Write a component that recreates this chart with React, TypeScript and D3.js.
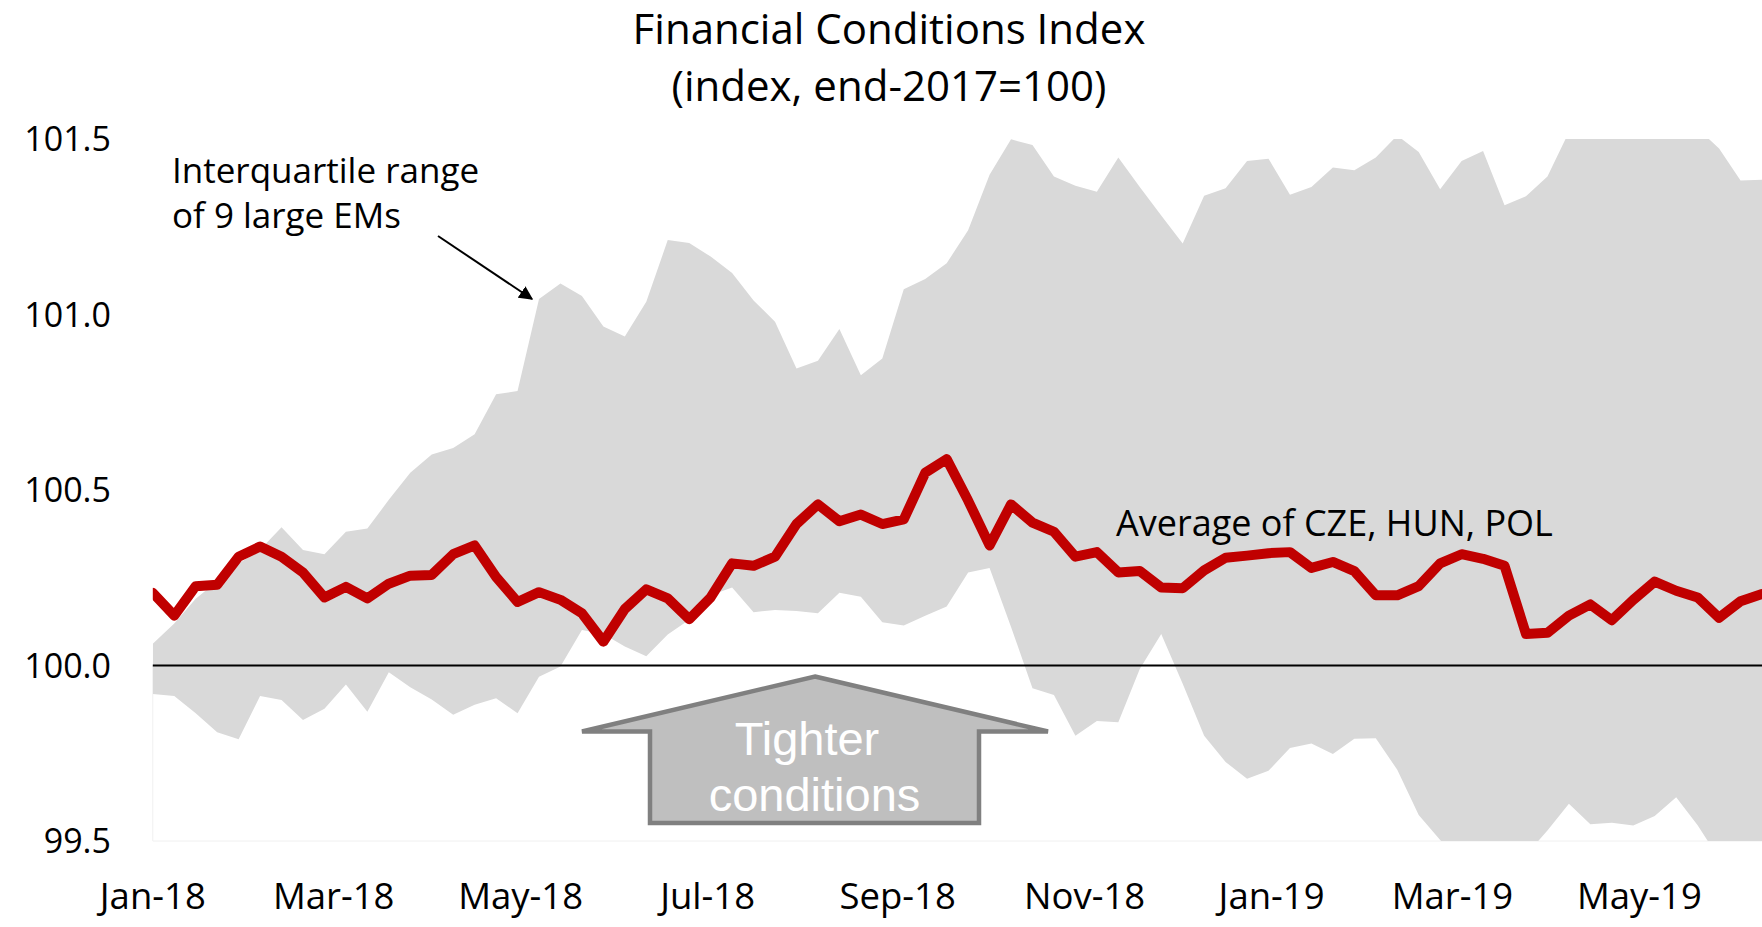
import React from 'react'
import * as d3 from 'd3'

// weekly readings, first week = Jan 2018
const avgCzeHunPol = [
  100.207, 100.142, 100.226, 100.23, 100.31, 100.339, 100.31, 100.265, 100.194, 100.224,
  100.191, 100.233, 100.256, 100.258, 100.317, 100.342, 100.252, 100.181, 100.209, 100.187,
  100.149, 100.068, 100.161, 100.217, 100.191, 100.132, 100.194, 100.291, 100.284, 100.31,
  100.403, 100.459, 100.411, 100.43, 100.403, 100.416, 100.549, 100.588, 100.47, 100.342,
  100.459, 100.407, 100.381, 100.31, 100.323, 100.265, 100.269, 100.222, 100.22, 100.271,
  100.307, 100.313, 100.32, 100.323, 100.278, 100.295, 100.269, 100.2, 100.2, 100.226,
  100.291, 100.317, 100.304, 100.284, 100.09, 100.093, 100.142, 100.174, 100.129, 100.187,
  100.239, 100.213, 100.194, 100.136, 100.183, 100.204,
]

const iqrUpper = [
  100.062, 100.12, 100.19, 100.24, 100.29, 100.33, 100.394, 100.329, 100.317, 100.381,
  100.39, 100.472, 100.549, 100.601, 100.62, 100.659, 100.773, 100.782, 101.044, 101.088,
  101.053, 100.966, 100.937, 101.036, 101.212, 101.204, 101.165, 101.118, 101.04, 100.979,
  100.846, 100.868, 100.959, 100.827, 100.875, 101.072, 101.101, 101.146, 101.24, 101.398,
  101.499, 101.483, 101.393, 101.367, 101.35, 101.447, 101.363, 101.282, 101.202, 101.338,
  101.36, 101.437, 101.444, 101.341, 101.363, 101.419, 101.411, 101.447, 101.51, 101.463,
  101.357, 101.437, 101.466, 101.311, 101.337, 101.393, 101.52, 101.58, 101.62, 101.6,
  101.57, 101.56, 101.53, 101.473, 101.382, 101.384,
]

const iqrLower = [
  99.919, 99.913, 99.864, 99.81, 99.79, 99.913, 99.902, 99.845, 99.877, 99.946,
  99.868, 99.981, 99.938, 99.903, 99.86, 99.888, 99.907, 99.864, 99.968, 99.997,
  100.101, 100.09, 100.054, 100.026, 100.088, 100.13, 100.2, 100.222, 100.152, 100.158,
  100.155, 100.149, 100.207, 100.196, 100.123, 100.114, 100.142, 100.168, 100.265, 100.278,
  100.11, 99.935, 99.916, 99.8, 99.842, 99.838, 99.99, 100.09, 99.948, 99.8,
  99.725, 99.677, 99.7, 99.765, 99.778, 99.748, 99.791, 99.793, 99.703, 99.574,
  99.503, 99.44, 99.42, 99.43, 99.46, 99.53, 99.606, 99.548, 99.552, 99.544,
  99.571, 99.625, 99.545, 99.45, 99.43, 99.44,
]

const yTicks = [99.5, 100, 100.5, 101, 101.5]
const titleLines = ['Financial Conditions Index', '(index, end-2017=100)']

const startDate = new Date(Date.UTC(2018, 0, 1))
const weeks = avgCzeHunPol.map((_, i) => d3.utcDay.offset(startDate, 7 * i))

const width = 1762
const height = 927
const margin = { top: 139, right: 0, bottom: 86, left: 152.8 }
const font = '"Segoe UI", "Open Sans", sans-serif'

const App = () => {
  const x = d3
    .scaleUtc()
    .domain([weeks[0], weeks[weeks.length - 1]])
    .range([margin.left, width - margin.right])

  const y = d3
    .scaleLinear()
    .domain([99.5, 101.5])
    .range([height - margin.bottom, margin.top])

  const xTicks = d3.utcMonth.every(2)!.range(weeks[0], weeks[weeks.length - 1])
  const fmt = d3.utcFormat('%b-%y')

  const band = d3
    .area<number>()
    .x((_, i) => x(weeks[i]))
    .y0((_, i) => y(iqrLower[i]))
    .y1((_, i) => y(iqrUpper[i]))

  const line = d3
    .line<number>()
    .x((_, i) => x(weeks[i]))
    .y((d) => y(d))

  const plotW = width - margin.right - margin.left
  const plotH = height - margin.bottom - margin.top

  // "Tighter conditions" block arrow
  const arrow = [
    [815, 676.5],
    [1048, 731.5],
    [979, 731.5],
    [979, 823],
    [650, 823],
    [650, 731.5],
    [582, 731.5],
  ]

  return (
    <svg
      width={width}
      height={height}
      style={{ position: 'absolute', left: 0, top: 0, background: '#fff' }}
      fontFamily={font}
    >
      <defs>
        <clipPath id="plot">
          <rect x={margin.left} y={margin.top} width={plotW} height={plotH} />
        </clipPath>
        <marker id="head" viewBox="0 0 10 10" refX="9" refY="5" markerWidth="7" markerHeight="7" orient="auto">
          <path d="M0,0 L10,5 L0,10 z" fill="#000" />
        </marker>
      </defs>

      {/* title */}
      {titleLines.map((t, i) => (
        <text key={t} x={889} y={44 + i * 57} textAnchor="middle" fontSize={42} fill="#000">
          {t}
        </text>
      ))}

      {/* plot area frame */}
      <line x1={margin.left} x2={margin.left} y1={y(100)} y2={y(99.5)} stroke="#f0f0f0" />
      <line x1={margin.left} x2={width} y1={y(99.5)} y2={y(99.5)} stroke="#f0f0f0" />

      <g clipPath="url(#plot)">
        <path d={band(avgCzeHunPol) ?? ''} fill="#d9d9d9" />
      </g>

      <line x1={margin.left} x2={width} y1={y(100)} y2={y(100)} stroke="#000" strokeWidth={2} />

      <g clipPath="url(#plot)">
        <path
          d={line(avgCzeHunPol) ?? ''}
          fill="none"
          stroke="#c00000"
          strokeWidth={10}
          strokeLinejoin="round"
          strokeLinecap="round"
        />
      </g>

      {/* y axis labels */}
      {yTicks.map((t) => (
        <text key={t} x={111} y={y(t) + 12} textAnchor="end" fontSize={34} fill="#000">
          {d3.format('.1f')(t)}
        </text>
      ))}

      {/* x axis labels */}
      {xTicks.map((d) => (
        <text key={+d} x={x(d)} y={909} textAnchor="middle" fontSize={36.5} fill="#000">
          {fmt(d)}
        </text>
      ))}

      {/* annotations */}
      <text x={172} y={183} fontSize={35} fill="#000">Interquartile range</text>
      <text x={172} y={228} fontSize={35} fill="#000">of 9 large EMs</text>
      <line x1={438} y1={236} x2={532} y2={299} stroke="#000" strokeWidth={2} markerEnd="url(#head)" />

      <text x={1116} y={536} fontSize={36} fill="#000">Average of CZE, HUN, POL</text>

      <polygon
        points={arrow.map((p) => p.join(',')).join(' ')}
        fill="#bfbfbf"
        stroke="#808080"
        strokeWidth={4.5}
        strokeLinejoin="miter"
      />
      <text x={807} y={755} textAnchor="middle" fontSize={47} fill="#fff" fontFamily='"Liberation Sans", Arial, sans-serif'>
        Tighter
      </text>
      <text x={814.5} y={811} textAnchor="middle" fontSize={47} fill="#fff" fontFamily='"Liberation Sans", Arial, sans-serif'>
        conditions
      </text>
    </svg>
  )
}

export default App
